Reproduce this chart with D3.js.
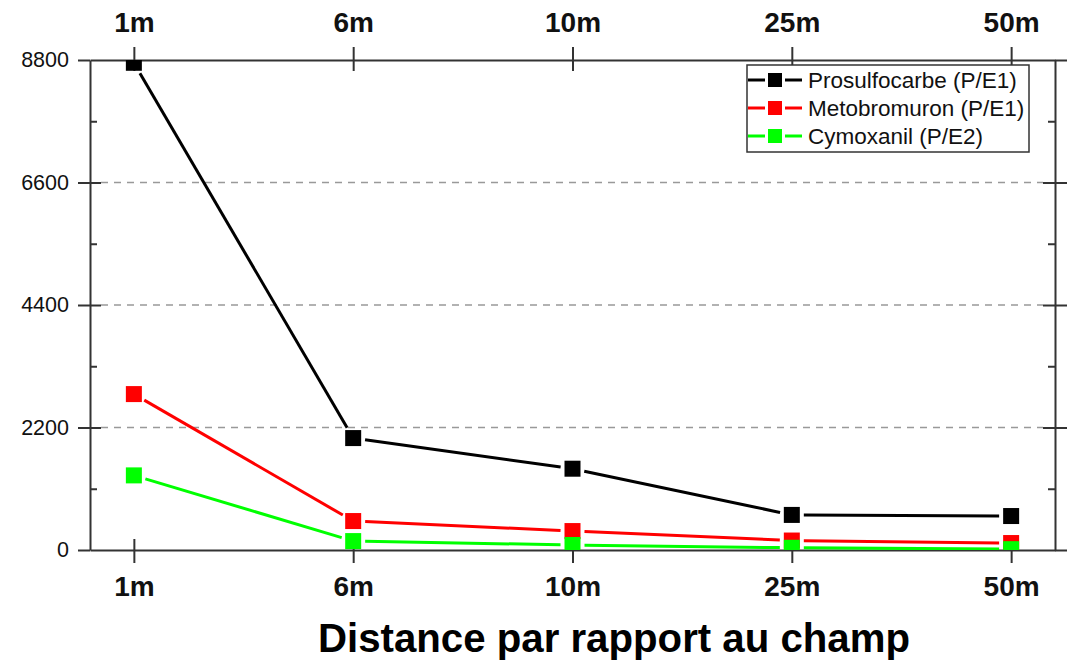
<!DOCTYPE html>
<html>
<head>
<meta charset="utf-8">
<script src="https://cdn.jsdelivr.net/npm/d3@7"></script>
<style>
  html, body { margin: 0; padding: 0; background: #fff; }
  svg { display: block; font-family: "Liberation Sans", Arial, sans-serif; }
</style>
</head>
<body>
<svg id="chart" width="1070" height="660"></svg>
<script>
// ---- data ----
const categories = ["1m", "6m", "10m", "25m", "50m"];
const seriesNames = ["Prosulfocarbe (P/E1)", "Metobromuron (P/E1)", "Cymoxanil (P/E2)"];
const seriesColors = ["#000000", "#ff0000", "#00ff00"];
const prosulfocarbe = [8750, 2010, 1460, 630, 610];
const metobromuron = [2800, 520, 340, 170, 125];
const cymoxanil = [1340, 160, 90, 40, 15];
const yMajorTicks = [0, 2200, 4400, 6600, 8800];
const yMinorTicks = [1100, 3300, 5500, 7700];
const gridTicks = [2200, 4400, 6600];
const xTitle = "Distance par rapport au champ";

const seriesValues = [prosulfocarbe, metobromuron, cymoxanil];

// ---- layout ----
const L = 90, R = 1055, T = 60, B = 550;
const svg = d3.select("#chart");

const x = d3.scalePoint().domain(categories).range([L, R]).padding(0.2);
const y = d3.scaleLinear().domain([0, 8800]).range([B, T]);

const axisColor = "#333";

// gridlines
svg.append("g").selectAll("line").data(gridTicks).join("line")
  .attr("x1", L + 11).attr("x2", R - 12)
  .attr("y1", d => y(d)).attr("y2", d => y(d))
  .attr("stroke", "#999").attr("stroke-width", 1.5)
  .attr("stroke-dasharray", "7,6");

function styleAxis(g, fontSize, weight) {
  g.select(".domain").attr("stroke", axisColor).attr("stroke-width", 2);
  g.selectAll(".tick line").attr("stroke", axisColor).attr("stroke-width", 2);
  g.selectAll(".tick text").attr("fill", "#111")
    .style("font-size", fontSize + "px").style("font-weight", weight)
    .style("font-family", '"Liberation Sans", Arial, sans-serif');
}

// bottom axis
const gB = svg.append("g").attr("transform", `translate(0,${B})`)
  .call(d3.axisBottom(x).tickSizeInner(13).tickSizeOuter(0).tickPadding(13));
styleAxis(gB, 28, "bold");
svg.append("g").attr("transform", `translate(0,${B})`)
  .call(d3.axisBottom(x).tickSizeInner(-11).tickSizeOuter(0).tickFormat(""))
  .call(g => { g.select(".domain").remove(); g.selectAll(".tick line").attr("stroke", axisColor).attr("stroke-width", 2); });

// top axis
const gT = svg.append("g").attr("transform", `translate(0,${T})`)
  .call(d3.axisTop(x).tickSizeInner(13).tickSizeOuter(0).tickPadding(15));
styleAxis(gT, 28, "bold");
svg.append("g").attr("transform", `translate(0,${T})`)
  .call(d3.axisTop(x).tickSizeInner(-11).tickSizeOuter(0).tickFormat(""))
  .call(g => { g.select(".domain").remove(); g.selectAll(".tick line").attr("stroke", axisColor).attr("stroke-width", 2); });

// left axis
const gL = svg.append("g").attr("transform", `translate(${L},0)`)
  .call(d3.axisLeft(y).tickValues(yMajorTicks).tickFormat(d3.format("d")).tickSizeInner(12).tickSizeOuter(0).tickPadding(9));
styleAxis(gL, 21.5, "normal");
svg.append("g").attr("transform", `translate(${L},0)`)
  .call(d3.axisLeft(y).tickValues(yMajorTicks.slice(1, -1)).tickSizeInner(-11).tickSizeOuter(0).tickFormat(""))
  .call(g => { g.select(".domain").remove(); g.selectAll(".tick line").attr("stroke", axisColor).attr("stroke-width", 2); });
svg.append("g").attr("transform", `translate(${L},0)`)
  .call(d3.axisLeft(y).tickValues(yMinorTicks).tickSizeInner(-7).tickSizeOuter(0).tickFormat(""))
  .call(g => { g.select(".domain").remove(); g.selectAll(".tick line").attr("stroke", axisColor).attr("stroke-width", 2); });

// right axis
const gR = svg.append("g").attr("transform", `translate(${R},0)`)
  .call(d3.axisRight(y).tickValues(yMajorTicks).tickSizeInner(12).tickSizeOuter(0).tickFormat(""));
styleAxis(gR, 21, "normal");
svg.append("g").attr("transform", `translate(${R},0)`)
  .call(d3.axisRight(y).tickValues(yMajorTicks.slice(1, -1)).tickSizeInner(-12).tickSizeOuter(0).tickFormat(""))
  .call(g => { g.select(".domain").remove(); g.selectAll(".tick line").attr("stroke", axisColor).attr("stroke-width", 2); });
svg.append("g").attr("transform", `translate(${R},0)`)
  .call(d3.axisRight(y).tickValues(yMinorTicks).tickSizeInner(-7).tickSizeOuter(0).tickFormat(""))
  .call(g => { g.select(".domain").remove(); g.selectAll(".tick line").attr("stroke", axisColor).attr("stroke-width", 2); });

// clip path for data
svg.append("clipPath").attr("id", "plotclip")
  .append("rect").attr("x", L).attr("y", T).attr("width", R - L).attr("height", B - T);

const plot = svg.append("g").attr("clip-path", "url(#plotclip)");
const gap = 12;
const msize = 16;

seriesValues.forEach((vals, si) => {
  const pts = vals.map((v, i) => [x(categories[i]), y(v)]);
  const segs = d3.pairs(pts).map(([a, b]) => {
    const dx = b[0] - a[0], dy = b[1] - a[1];
    const len = Math.hypot(dx, dy);
    const ux = dx / len, uy = dy / len;
    return [a[0] + ux * gap, a[1] + uy * gap, b[0] - ux * gap, b[1] - uy * gap];
  });
  plot.append("g").selectAll("line").data(segs).join("line")
    .attr("x1", d => d[0]).attr("y1", d => d[1])
    .attr("x2", d => d[2]).attr("y2", d => d[3])
    .attr("stroke", seriesColors[si]).attr("stroke-width", 3);
});
seriesValues.forEach((vals, si) => {
  plot.append("g").selectAll("rect").data(vals).join("rect")
    .attr("x", (d, i) => x(categories[i]) - msize / 2)
    .attr("y", d => y(d) - msize / 2)
    .attr("width", msize).attr("height", msize)
    .attr("fill", seriesColors[si]);
});

// legend
const lg = svg.append("g");
lg.append("rect").attr("x", 747).attr("y", 65).attr("width", 282).attr("height", 87)
  .attr("fill", "#fff").attr("stroke", axisColor).attr("stroke-width", 1.5);
seriesNames.forEach((name, i) => {
  const cy = 80 + i * 28;
  lg.append("line").attr("x1", 748).attr("x2", 765).attr("y1", cy).attr("y2", cy)
    .attr("stroke", seriesColors[i]).attr("stroke-width", 3);
  lg.append("line").attr("x1", 785).attr("x2", 802).attr("y1", cy).attr("y2", cy)
    .attr("stroke", seriesColors[i]).attr("stroke-width", 3);
  lg.append("rect").attr("x", 775 - 7).attr("y", cy - 7).attr("width", 14).attr("height", 14)
    .attr("fill", seriesColors[i]);
  lg.append("text").attr("x", 808).attr("y", cy + 8).text(name)
    .style("font-size", "22.5px").attr("fill", "#111");
});

// x title
svg.append("text").attr("x", 614).attr("y", 652)
  .attr("text-anchor", "middle")
  .attr("textLength", 592).attr("lengthAdjust", "spacingAndGlyphs")
  .style("font-size", "41px").style("font-weight", "bold").attr("fill", "#000")
  .text(xTitle);
</script>
</body>
</html>
